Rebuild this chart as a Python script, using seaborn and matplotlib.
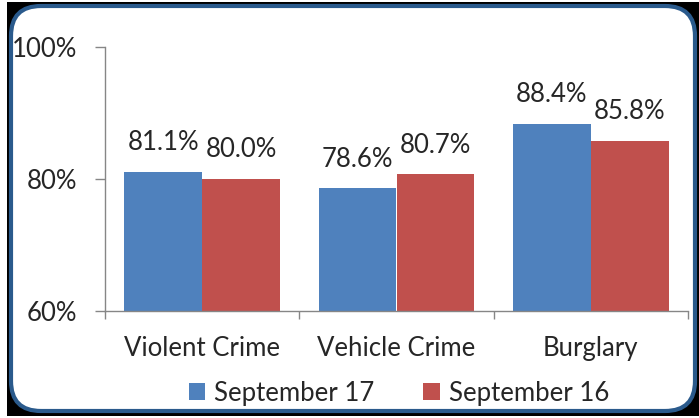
import matplotlib
matplotlib.use('Agg')
import matplotlib.pyplot as plt
from matplotlib.patches import FancyBboxPatch, Rectangle, Patch
from matplotlib.transforms import IdentityTransform
import pandas as pd
import seaborn as sns

# Chart data
categories = ['Violent Crime', 'Vehicle Crime', 'Burglary']
periods = ['September 17', 'September 16']
sep17 = [81.1, 78.6, 88.4]
sep16 = [80.0, 80.7, 85.8]
y_ticks = [60, 80, 100]
colors = ['#4F81BD', '#C0504D']

df = pd.DataFrame({
    'category': categories * 2,
    'period': [periods[0]] * len(categories) + [periods[1]] * len(categories),
    'value': sep17 + sep16,
})

sns.set_theme(style='white')
plt.rcParams['font.family'] = ['Lato', 'DejaVu Sans']

W, H = 699, 418
FS = 18.5
fig = plt.figure(figsize=(W / 100, H / 100), dpi=100)
fig.patch.set_facecolor('white')

# Rounded frame with dark corners (display pixel coords, origin bottom-left)
fig.patches.append(Rectangle((7, 2), 692, 414, transform=IdentityTransform(),
                             facecolor='black', edgecolor='none', zorder=0))
fig.patches.append(FancyBboxPatch((11, 7), 684, 405, transform=IdentityTransform(),
                                  boxstyle='round,pad=0,rounding_size=30',
                                  facecolor='white', edgecolor='#2A5A8C',
                                  linewidth=3, zorder=1))

ax = fig.add_axes([105 / W, 1 - 311 / H, (688 - 105) / W, (311 - 47) / H])
ax.set_zorder(2)
ax.patch.set_alpha(0)

sns.barplot(data=df, x='category', y='value', hue='period', order=categories,
            hue_order=periods, palette=colors, saturation=1, width=0.8,
            linewidth=0, ax=ax, legend=False)

for cont in ax.containers:
    ax.bar_label(cont, fmt='%.1f%%', padding=12, fontsize=FS, color='#262626')

ax.set_ylim(60, 100)
ax.set_xlim(-0.5, 2.5)
ax.set_yticks(y_ticks)
ax.set_yticklabels([f'{v}%' for v in y_ticks])
ax.set_xticks([-0.5, 0.5, 1.5, 2.5])
ax.set_xticklabels([])
ax.set_xticks([0, 1, 2], minor=True)
ax.set_xticklabels(categories, minor=True)
ax.set_xlabel('')
ax.set_ylabel('')

axis_color = '#868686'
ax.tick_params(axis='y', which='major', direction='out', length=7, width=1,
               color=axis_color, labelsize=FS, labelcolor='#262626', pad=13, left=True)
ax.tick_params(axis='x', which='major', direction='out', length=6, width=1,
               color=axis_color, bottom=True)
ax.tick_params(axis='x', which='minor', length=0, labelsize=FS,
               labelcolor='#262626', pad=18)

for side in ['top', 'right']:
    ax.spines[side].set_visible(False)
for side in ['left', 'bottom']:
    ax.spines[side].set_color(axis_color)
    ax.spines[side].set_linewidth(1)

handles = [Patch(facecolor=c, edgecolor='none') for c in colors]
fig.legend(handles, periods, loc='center', bbox_to_anchor=(399 / W, 1 - 393 / H),
           ncol=2, frameon=False, fontsize=FS, handlelength=0.65, handleheight=0.65,
           handletextpad=0.35, columnspacing=1.9, labelcolor='#262626')

fig.savefig('out.png', dpi=100)
